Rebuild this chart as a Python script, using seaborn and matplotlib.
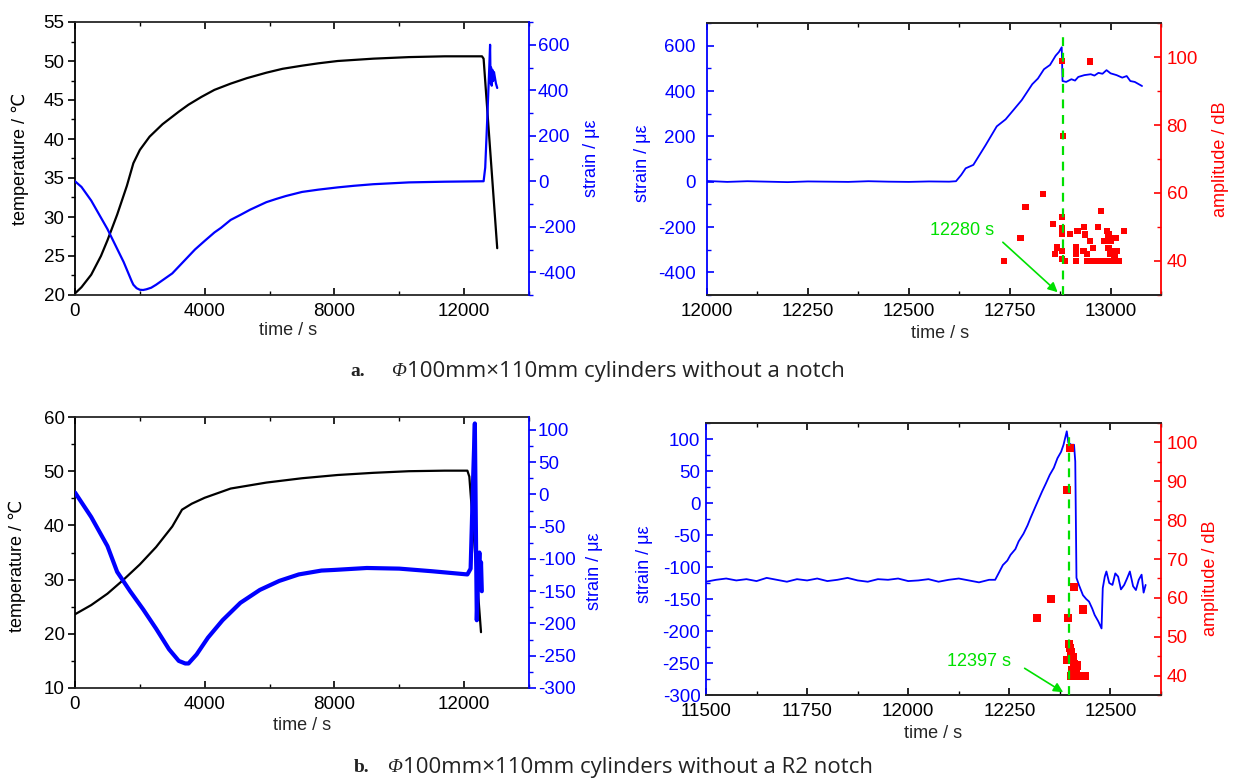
import numpy as np
import pandas as pd
import matplotlib
matplotlib.use("Agg")
import matplotlib.pyplot as plt
import seaborn as sns
from matplotlib.ticker import MultipleLocator

# ---------------- data ----------------
# panel a-left: temperature and strain vs time
a_temp_t = [0, 200, 500, 800, 1000, 1300, 1600, 1800, 2000, 2300, 2500, 2700, 3200, 3500, 3900,
            4300, 4800, 5300, 5900, 6400, 7000, 7500, 8100, 9200, 10300, 11400, 12550, 12600, 13020]
a_temp_v = [20.2, 21.0, 22.6, 25.0, 27.0, 30.3, 34.0, 36.9, 38.6, 40.3, 41.1, 41.9, 43.5, 44.4, 45.4,
            46.3, 47.1, 47.8, 48.5, 49.0, 49.4, 49.7, 50.0, 50.3, 50.5, 50.6, 50.6, 50.3, 26.0]
a_str_t = [0, 200, 500, 1000, 1500, 1750, 1800, 1900, 2000, 2100, 2200, 2350, 2500, 2650, 2850,
           3000, 3300, 3500, 3700, 4000, 4300, 4500, 4800, 5100, 5400, 5900, 6200, 6500, 7000,
           7500, 8100, 8600, 9200, 10300, 11400, 12600, 12650, 12720, 12780, 12800,
           12815, 12830, 12850, 12870, 12890, 12920, 12950, 12980, 13020]
a_str_v = [0, -25, -85, -210, -355, -440, -455, -470, -477, -478, -475, -468, -455, -440, -420,
           -405, -360, -330, -300, -262, -225, -205, -170, -148, -125, -92, -78, -65, -47,
           -37, -27, -20, -13, -5, -2, 0, 60, 300, 520, 600,
           430, 500, 420, 490, 440, 480, 455, 430, 410]

# panel a-right: strain and AE amplitude
ar_str_t = [12000, 12050, 12100, 12150, 12200, 12250, 12300, 12350, 12400, 12450, 12500, 12550,
            12600, 12617, 12630, 12641, 12660, 12690, 12718, 12740, 12757, 12780, 12806, 12820,
            12835, 12850, 12864, 12872, 12879, 12881, 12890, 12903, 12912, 12920, 12935, 12951,
            12960, 12970, 12980, 12990, 13000, 13015, 13029, 13040, 13049, 13060, 13070, 13078]
ar_str_v = [3, -1, 2, 0, -2, 1, 0, -1, 2, 0, -1, 1,
            0, 2, 30, 59, 74, 160, 244, 275, 311, 360, 430, 455,
            496, 515, 556, 572, 593, 444, 440, 452, 446, 462, 470, 474,
            468, 480, 476, 492, 478, 470, 459, 466, 444, 440, 430, 422]
ar_amp_t = [12736, 12777, 12789, 12833, 12858, 12862, 12867, 12879, 12883, 12880, 12880, 12880,
            12880, 12880, 12888, 12900, 12918, 12935, 12937, 12915, 12915, 12915, 12933, 12942,
            12949, 12949, 12956, 12968, 12976, 12991, 12995, 12985, 13000, 13012, 13034, 12995,
            13005, 13015, 13000, 13010, 12942, 12950, 12958, 12966, 12974, 12982, 12990, 12998,
            13006, 13014, 13020]
ar_amp_v = [40, 46.8, 55.9, 59.8, 50.9, 42, 44, 98.8, 76.8, 52.9, 49.8, 48,
            42.9, 40.5, 40, 48, 48.8, 50, 47.8, 44, 42, 40, 42.9, 42,
            98.7, 45.9, 43.9, 50, 54.8, 48.8, 47.8, 45.9, 45.9, 46.8, 48.8, 43.9,
            42.9, 42.9, 42, 41, 40, 40, 40, 40, 40, 40, 40, 40,
            40, 40, 40]
a_peak_t = 12881
a_peak_label = "12280 s"

# panel b-left
b_temp_t = [0, 500, 1000, 1500, 2000, 2500, 3000, 3300, 3600, 4000, 4800, 5900, 7000, 8100,
            9200, 10300, 11400, 12100, 12160, 12520]
b_temp_v = [23.6, 25.3, 27.4, 30.0, 32.8, 36.0, 39.8, 42.9, 44.0, 45.1, 46.8, 47.9, 48.7, 49.3,
            49.7, 50.0, 50.1, 50.1, 49.0, 20.3]
b_str_t = [0, 500, 1000, 1300, 1700, 2100, 2500, 2900, 3200, 3400, 3500, 3750, 4100, 4550, 5100,
           5700, 6300, 6900, 7600, 8000, 9000, 10000, 11000, 12100, 12200, 12280, 12330, 12390,
           12430, 12470, 12500, 12520, 12545]
b_str_v = [3, -35, -80, -120, -150, -178, -208, -240, -258, -262, -262, -248, -222, -195, -168,
           -148, -134, -124, -118, -117, -114, -115, -119, -124, -115, 30, 110, -195,
           -130, -90, -140, -105, -150]

# panel b-right
br_str_t = [11500, 11525, 11550, 11575, 11600, 11625, 11650, 11675, 11700, 11725, 11750, 11775,
            11800, 11825, 11850, 11875, 11900, 11925, 11950, 11975, 12000, 12025, 12050, 12075,
            12100, 12125, 12150, 12175, 12200, 12215, 12225, 12234, 12245, 12253, 12265, 12273,
            12285, 12295, 12302, 12315, 12331, 12340, 12350, 12360, 12369, 12378, 12384, 12392,
            12396, 12403, 12410, 12413, 12416, 12422, 12432, 12440, 12447, 12455, 12461, 12470,
            12478, 12481, 12486, 12490, 12497, 12505, 12512, 12519, 12526, 12534, 12541, 12548,
            12556, 12563, 12570, 12577, 12582, 12587]
br_str_v = [-123, -120, -118, -121, -119, -122, -117, -120, -123, -119, -121, -118,
            -122, -120, -117, -121, -123, -119, -120, -118, -122, -121, -119, -123,
            -120, -118, -121, -124, -120, -120, -108, -97, -90, -81, -72, -60,
            -48, -35, -24, -5, 18, 30, 44, 55, 70, 80, 91, 112,
            94, 91, 91, 65, -117, -128, -144, -150, -154, -165, -175, -185,
            -196, -133, -115, -107, -125, -128, -110, -115, -135, -128, -118, -107,
            -130, -136, -120, -112, -140, -128]
br_amp_t = [12319, 12353, 12392, 12400, 12396, 12410, 12433, 12398, 12403, 12408, 12392, 12410,
            12418, 12403, 12412, 12422, 12430, 12437, 12406, 12415, 12400]
br_amp_v = [54.9, 59.8, 87.7, 98.6, 54.9, 62.8, 57, 48.1, 46, 44.7, 44, 43,
            42.6, 40, 40, 40, 40, 40, 41.5, 41.2, 47]
b_peak_t = 12397
b_peak_label = "12397 s"

cap_a = ["a.", "\u03A6", "100mm\u00D7110mm cylinders without a notch"]
cap_b = ["b.", "\u03A6", "100mm\u00D7110mm cylinders without a R2 notch"]

# ---------------- styling ----------------
sns.set_theme(style="ticks")
SANS = ['Liberation Sans', 'DejaVu Sans']
plt.rcParams['font.family'] = SANS
plt.rcParams['axes.linewidth'] = 1.3
plt.rcParams['axes.unicode_minus'] = False

BLUE = '#0000FF'
RED = '#FF0000'
GREEN = '#00E000'
FS = 13

W, H = 1234, 784
fig = plt.figure(figsize=(W / 100, H / 100), dpi=100)


def rect(x0, y0, x1, y1):
    return [x0 / W, 1 - y1 / H, (x1 - x0) / W, (y1 - y0) / H]


def line(ax, t, v, color, lw):
    df = pd.DataFrame({"t": t, "v": v})
    sns.lineplot(data=df, x="t", y="v", ax=ax, color=color, linewidth=lw,
                 sort=False, estimator=None, legend=False)
    ax.set_xlabel("")
    ax.set_ylabel("")


def setup_x(ax, lo, hi, major, minor):
    ax.set_xlim(lo, hi)
    ax.xaxis.set_major_locator(MultipleLocator(major))
    ax.xaxis.set_minor_locator(MultipleLocator(minor))
    ax.tick_params(axis='x', which='both', direction='in', top=True, bottom=True,
                   labelsize=FS + 0.5, colors='black')
    ax.tick_params(axis='x', which='major', length=5, width=1.2, pad=6)
    ax.tick_params(axis='x', which='minor', length=3, width=1.0)


def setup_y(ax, lo, hi, major, minor, color, side, direction, pad):
    ax.set_ylim(lo, hi)
    ax.yaxis.set_major_locator(MultipleLocator(major))
    ax.yaxis.set_minor_locator(MultipleLocator(minor))
    kw = dict(left=(side == 'left'), right=(side == 'right'),
              labelleft=(side == 'left'), labelright=(side == 'right'))
    ax.tick_params(axis='y', which='both', direction=direction, colors=color,
                   labelsize=FS + 0.5, **kw)
    ax.tick_params(axis='y', which='major', length=5, width=1.2, pad=pad)
    ax.tick_params(axis='y', which='minor', length=3, width=1.0)
    ax.spines[side].set_color(color)


def labels(ax, tw, xl, xlc, yl, ylc, yc, ylcol, y2, y2c, y2col):
    ax.set_xlabel(xl, fontsize=FS)
    ax.xaxis.set_label_coords(*xlc)
    ax.set_ylabel(yl, fontsize=FS, color=ylcol)
    ax.yaxis.set_label_coords(ylc, yc)
    tw.set_ylabel(y2, fontsize=FS, color=y2col, rotation=90)
    tw.yaxis.set_label_coords(*y2c)


# ---------------- panel a-left ----------------
ax = fig.add_axes(rect(75, 22, 529, 295))
tw = ax.twinx()
line(ax, a_temp_t, a_temp_v, 'black', 1.6)
line(tw, a_str_t, a_str_v, BLUE, 1.6)
setup_x(ax, 0, 14000, 4000, 2000)
setup_y(ax, 20, 55, 5, 2.5, 'black', 'left', 'out', 2.5)
setup_y(tw, -500, 700, 200, 100, BLUE, 'right', 'out', 1.5)
ax.spines['right'].set_visible(False)
for s in ['left', 'top', 'bottom']:
    tw.spines[s].set_visible(False)
labels(ax, tw, "time / s", (0.47, -0.1), "temperature / \u2103", -0.102, 0.5, 'black',
       "strain / \u03bc\u03b5", (1.118, 0.5), BLUE)

# ---------------- panel a-right ----------------
ax = fig.add_axes(rect(707, 23, 1161, 295))
tw = ax.twinx()
line(ax, ar_str_t, ar_str_v, BLUE, 1.3)
sns.scatterplot(x=ar_amp_t, y=ar_amp_v, ax=tw, color=RED, marker='s', s=20,
                edgecolor='none', zorder=5, legend=False)
setup_x(ax, 12000, 13125, 250, 125)
setup_y(ax, -500, 700, 200, 100, BLUE, 'left', 'in', 8)
setup_y(tw, 30, 110, 20, 10, RED, 'right', 'in', 4)
ax.spines['left'].set_visible(False)
tw.spines['left'].set_color(BLUE)
ax.spines['right'].set_visible(False)
tw.axvline(a_peak_t, ymin=0, ymax=0.96, color=GREEN, lw=1.6, ls=(0, (4, 3)), zorder=6)
ax.text(12631, -215, a_peak_label, color=GREEN, fontsize=FS, ha='center', va='center')
ax.annotate('', xy=(12874, -496), xytext=(12728, -259),
            arrowprops=dict(arrowstyle='-|>', color=GREEN, lw=1.2, mutation_scale=14),
            annotation_clip=False)
labels(ax, tw, "time / s", (0.513, -0.11), "strain / \u03bc\u03b5", -0.123, 0.485, BLUE,
       "amplitude / dB", (1.112, 0.5), RED)

# ---------------- panel b-left ----------------
ax = fig.add_axes(rect(75, 417, 529, 688))
tw = ax.twinx()
line(ax, b_temp_t, b_temp_v, 'black', 1.6)
line(tw, b_str_t, b_str_v, BLUE, 3.0)
setup_x(ax, 0, 14000, 4000, 2000)
setup_y(ax, 10, 60, 10, 5, 'black', 'left', 'out', 2.5)
setup_y(tw, -300, 120, 50, 25, BLUE, 'right', 'out', 1.5)
ax.spines['right'].set_visible(False)
for s in ['left', 'top', 'bottom']:
    tw.spines[s].set_visible(False)
labels(ax, tw, "time / s", (0.5, -0.107), "temperature / \u2103", -0.108, 0.45, 'black',
       "strain / \u03bc\u03b5", (1.125, 0.43), BLUE)

# ---------------- panel b-right ----------------
ax = fig.add_axes(rect(706, 423, 1161, 695))
tw = ax.twinx()
line(ax, br_str_t, br_str_v, BLUE, 1.3)
sns.scatterplot(x=br_amp_t, y=br_amp_v, ax=tw, color=RED, marker='s', s=34,
                edgecolor='none', zorder=5, legend=False)
setup_x(ax, 11500, 12625, 250, 125)
setup_y(ax, -300, 125, 50, 25, BLUE, 'left', 'in', 4)
setup_y(tw, 35, 105, 10, 5, RED, 'right', 'in', 4)
ax.spines['left'].set_visible(False)
tw.spines['left'].set_color(BLUE)
ax.spines['right'].set_visible(False)
tw.axvline(b_peak_t, ymin=0, ymax=0.96, color=GREEN, lw=1.6, ls=(0, (4, 3)), zorder=6)
ax.text(12176, -248, b_peak_label, color=GREEN, fontsize=FS, ha='center', va='center')
ax.annotate('', xy=(12389, -298), xytext=(12282, -256),
            arrowprops=dict(arrowstyle='-|>', color=GREEN, lw=1.2, mutation_scale=14),
            annotation_clip=False)
labels(ax, tw, "time / s", (0.5, -0.11), "strain / \u03bc\u03b5", -0.116, 0.48, BLUE,
       "amplitude / dB", (1.09, 0.43), RED)

# ---------------- captions ----------------
def caption(parts, xs, yc):
    y = 1 - yc / H
    fig.text(xs[0] / W, y, parts[0], fontsize=14, fontweight='bold',
             family=['Liberation Serif', 'DejaVu Serif'], va='center', ha='left', color='#222222')
    fig.text(xs[1] / W, y, parts[1], fontsize=14, style='italic',
             family=['Liberation Serif', 'DejaVu Serif'], va='center', ha='left', color='#222222')
    fig.text(xs[2] / W, y, parts[2], fontsize=16,
             family=['Open Sans', 'DejaVu Sans'], va='center', ha='left', color='#222222')


caption(cap_a, (350, 391, 407), 371)
caption(cap_b, (354, 387, 403), 768)

fig.savefig("out.png", dpi=100, facecolor='white')
